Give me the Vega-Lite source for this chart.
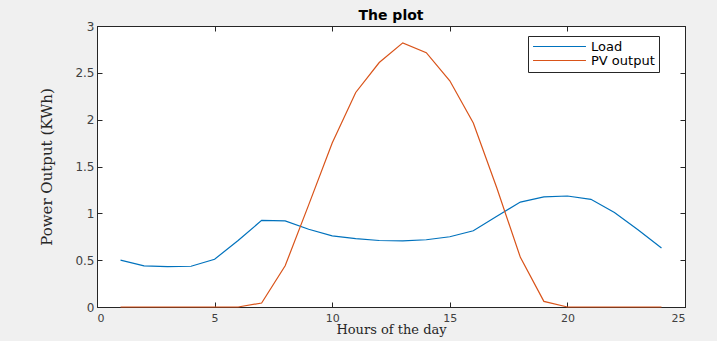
{
  "$schema": "https://vega.github.io/schema/vega-lite/v6.json",
  "autosize": "none",
  "width": 588,
  "height": 281,
  "padding": {"left": 97, "top": 26, "right": 32, "bottom": 34},
  "background": "#f0f0f0",
  "title": {"text": "The plot", "font": "DejaVu Sans", "fontSize": 14, "fontWeight": "bold", "color": "#000000", "anchor": "middle", "offset": -3},
  "config": {
    "view": {"fill": "#ffffff", "stroke": "#262626", "strokeWidth": 1},
    "axis": {"grid": false, "domainColor": "#262626", "tickColor": "#262626", "labelColor": "#404040", "labelFont": "DejaVu Sans", "labelFontSize": 12, "tickSize": -5, "titleFont": "DejaVu Serif", "titleFontWeight": "normal", "titleColor": "#262626", "format": "~g"}
  },
  "data": {"values": [
    {"hour": 1, "series": "Load", "value": 0.5},
    {"hour": 2, "series": "Load", "value": 0.44},
    {"hour": 3, "series": "Load", "value": 0.43},
    {"hour": 4, "series": "Load", "value": 0.435},
    {"hour": 5, "series": "Load", "value": 0.51},
    {"hour": 6, "series": "Load", "value": 0.71},
    {"hour": 7, "series": "Load", "value": 0.925},
    {"hour": 8, "series": "Load", "value": 0.92},
    {"hour": 9, "series": "Load", "value": 0.83},
    {"hour": 10, "series": "Load", "value": 0.76},
    {"hour": 11, "series": "Load", "value": 0.73},
    {"hour": 12, "series": "Load", "value": 0.71},
    {"hour": 13, "series": "Load", "value": 0.705},
    {"hour": 14, "series": "Load", "value": 0.718},
    {"hour": 15, "series": "Load", "value": 0.75},
    {"hour": 16, "series": "Load", "value": 0.814},
    {"hour": 17, "series": "Load", "value": 0.97},
    {"hour": 18, "series": "Load", "value": 1.12},
    {"hour": 19, "series": "Load", "value": 1.175},
    {"hour": 20, "series": "Load", "value": 1.185},
    {"hour": 21, "series": "Load", "value": 1.15},
    {"hour": 22, "series": "Load", "value": 1.01},
    {"hour": 23, "series": "Load", "value": 0.825},
    {"hour": 24, "series": "Load", "value": 0.63},
    {"hour": 1, "series": "PV output", "value": 0},
    {"hour": 2, "series": "PV output", "value": 0},
    {"hour": 3, "series": "PV output", "value": 0},
    {"hour": 4, "series": "PV output", "value": 0},
    {"hour": 5, "series": "PV output", "value": 0},
    {"hour": 6, "series": "PV output", "value": 0},
    {"hour": 7, "series": "PV output", "value": 0.043},
    {"hour": 8, "series": "PV output", "value": 0.44},
    {"hour": 9, "series": "PV output", "value": 1.09},
    {"hour": 10, "series": "PV output", "value": 1.75},
    {"hour": 11, "series": "PV output", "value": 2.29},
    {"hour": 12, "series": "PV output", "value": 2.61},
    {"hour": 13, "series": "PV output", "value": 2.82},
    {"hour": 14, "series": "PV output", "value": 2.715},
    {"hour": 15, "series": "PV output", "value": 2.415},
    {"hour": 16, "series": "PV output", "value": 1.965},
    {"hour": 17, "series": "PV output", "value": 1.27},
    {"hour": 18, "series": "PV output", "value": 0.53},
    {"hour": 19, "series": "PV output", "value": 0.06},
    {"hour": 20, "series": "PV output", "value": 0},
    {"hour": 21, "series": "PV output", "value": 0},
    {"hour": 22, "series": "PV output", "value": 0},
    {"hour": 23, "series": "PV output", "value": 0},
    {"hour": 24, "series": "PV output", "value": 0}
  ]},
  "layer": [
    {
      "mark": {"type": "line", "strokeWidth": 1.2},
      "encoding": {
        "x": {"field": "hour", "type": "quantitative", "scale": {"domain": [0, 25], "nice": false, "zero": false},
              "axis": {"orient": "bottom", "values": [0, 5, 10, 15, 20, 25], "title": "Hours of the day", "titleFontSize": 13, "labelFontSize": 11, "labelPadding": 10, "titlePadding": 0}},
        "y": {"field": "value", "type": "quantitative", "scale": {"domain": [0, 3], "nice": false},
              "axis": {"orient": "left", "values": [0, 0.5, 1, 1.5, 2, 2.5, 3], "title": "Power Output (KWh)", "titleFontSize": 15, "labelPadding": 8, "titlePadding": 20}},
        "color": {"field": "series", "type": "nominal",
                  "scale": {"domain": ["Load", "PV output"], "range": ["#0072BD", "#D95319"]},
                  "legend": {"title": null, "orient": "none", "legendX": 431, "legendY": 10, "direction": "vertical",
                             "symbolType": "M-5,0H5", "symbolSize": 112, "symbolOffset": 21, "symbolStrokeWidth": 1.2,
                             "labelFont": "DejaVu Sans", "labelFontSize": 13, "labelColor": "#000000", "labelOffset": 25,
                             "padding": 4, "rowPadding": 0, "fillColor": "#ffffff", "strokeColor": "#262626", "cornerRadius": 0}}
      }
    },
    {
      "mark": {"type": "line", "strokeOpacity": 0},
      "encoding": {
        "x": {"field": "hour", "type": "quantitative", "axis": {"orient": "top", "values": [0, 5, 10, 15, 20, 25], "labels": false, "title": null}},
        "y": {"field": "value", "type": "quantitative", "axis": {"orient": "right", "values": [0, 0.5, 1, 1.5, 2, 2.5, 3], "labels": false, "title": null}},
        "detail": {"field": "series", "type": "nominal"}
      }
    }
  ],
  "resolve": {"axis": {"x": "independent", "y": "independent"}}
}
